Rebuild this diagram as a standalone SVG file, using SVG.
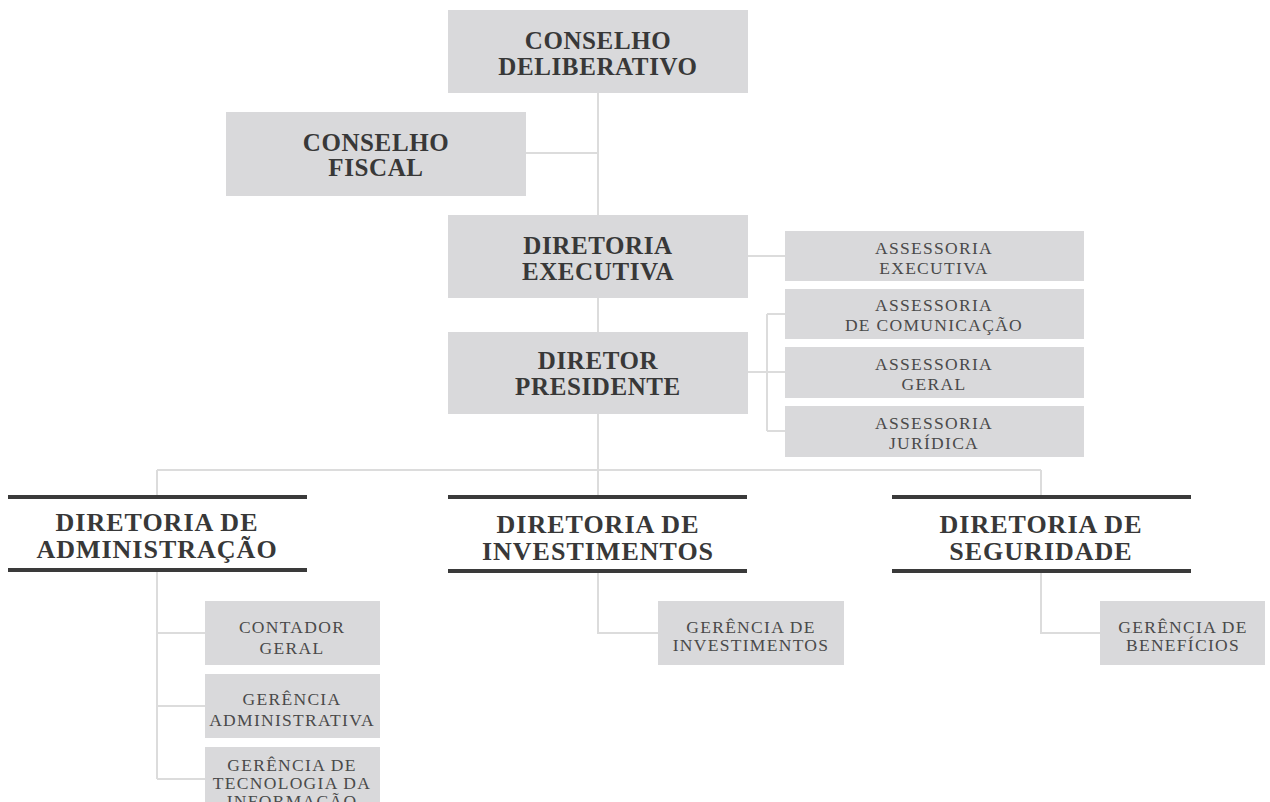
<svg xmlns="http://www.w3.org/2000/svg" width="1270" height="802" viewBox="0 0 1270 802">
<style>
.box{fill:#d9d9db}
.big{font-family:"Liberation Serif",serif;font-weight:bold;font-size:25px;fill:#383838;letter-spacing:0.6px;text-anchor:middle}
.title{font-family:"Liberation Serif",serif;font-weight:bold;font-size:26px;fill:#383838;letter-spacing:1px;text-anchor:middle}
.small{font-family:"Liberation Serif",serif;font-size:17.5px;fill:#4a4a4a;letter-spacing:1.3px;text-anchor:middle}
.conn{stroke:#dcdcdc;stroke-width:2;fill:none}
.bar{stroke:#3a3a3a;stroke-width:4}
</style>
<rect width="1270" height="802" fill="#ffffff"/>
<g id="connectors">
<path class="conn" d="M598,93V215M526,153H598M598,298V332M598,414V470M748,256H785M748,372H785M767,314V431M767,314H785M767,431H785M157,470H1041M157,470V497M598,470V497M1041,470V497M157,571V779M157,633H205M157,706H205M157,779H205M598,571V633H658M1041,571V633H1100"/>
</g>
<g id="conselho-deliberativo"><rect class="box" x="448" y="10" width="300" height="83"/><text class="big" x="598" y="49">CONSELHO</text><text class="big" x="598" y="75">DELIBERATIVO</text></g>
<g id="conselho-fiscal"><rect class="box" x="226" y="112" width="300" height="84"/><text class="big" x="376" y="151">CONSELHO</text><text class="big" x="376" y="176">FISCAL</text></g>
<g id="diretoria-executiva"><rect class="box" x="448" y="215" width="300" height="83"/><text class="big" x="598" y="254">DIRETORIA</text><text class="big" x="598" y="280">EXECUTIVA</text></g>
<g id="diretor-presidente"><rect class="box" x="448" y="332" width="300" height="82"/><text class="big" x="598" y="369">DIRETOR</text><text class="big" x="598" y="395">PRESIDENTE</text></g>
<g id="assessoria-executiva"><rect class="box" x="785" y="231" width="299" height="50"/><text class="small" x="934" y="254">ASSESSORIA</text><text class="small" x="934" y="274">EXECUTIVA</text></g>
<g id="assessoria-comunicacao"><rect class="box" x="785" y="289" width="299" height="50"/><text class="small" x="934" y="311">ASSESSORIA</text><text class="small" x="934" y="331">DE COMUNICAÇÃO</text></g>
<g id="assessoria-geral"><rect class="box" x="785" y="347" width="299" height="51"/><text class="small" x="934" y="370">ASSESSORIA</text><text class="small" x="934" y="390">GERAL</text></g>
<g id="assessoria-juridica"><rect class="box" x="785" y="406" width="299" height="51"/><text class="small" x="934" y="429">ASSESSORIA</text><text class="small" x="934" y="449">JURÍDICA</text></g>
<g id="diretoria-administracao"><line class="bar" x1="8" y1="497" x2="307" y2="497"/><line class="bar" x1="8" y1="570" x2="307" y2="570"/><text class="title" x="157" y="531">DIRETORIA DE</text><text class="title" x="157" y="558">ADMINISTRAÇÃO</text></g>
<g id="diretoria-investimentos"><line class="bar" x1="448" y1="497" x2="747" y2="497"/><line class="bar" x1="448" y1="571" x2="747" y2="571"/><text class="title" x="598" y="533">DIRETORIA DE</text><text class="title" x="598" y="560">INVESTIMENTOS</text></g>
<g id="diretoria-seguridade"><line class="bar" x1="892" y1="497" x2="1191" y2="497"/><line class="bar" x1="892" y1="571" x2="1191" y2="571"/><text class="title" x="1041" y="533">DIRETORIA DE</text><text class="title" x="1041" y="560">SEGURIDADE</text></g>
<g id="contador-geral"><rect class="box" x="205" y="601" width="175" height="64"/><text class="small" x="292" y="633">CONTADOR</text><text class="small" x="292" y="654">GERAL</text></g>
<g id="gerencia-administrativa"><rect class="box" x="205" y="674" width="175" height="64"/><text class="small" x="292" y="705">GERÊNCIA</text><text class="small" x="292" y="726">ADMINISTRATIVA</text></g>
<g id="gerencia-ti"><rect class="box" x="205" y="747" width="175" height="60"/><text class="small" x="292" y="771">GERÊNCIA DE</text><text class="small" x="292" y="789">TECNOLOGIA DA</text><text class="small" x="292" y="807">INFORMAÇÃO</text></g>
<g id="gerencia-investimentos"><rect class="box" x="658" y="601" width="186" height="64"/><text class="small" x="751" y="633">GERÊNCIA DE</text><text class="small" x="751" y="651">INVESTIMENTOS</text></g>
<g id="gerencia-beneficios"><rect class="box" x="1100" y="601" width="165" height="64"/><text class="small" x="1183" y="633">GERÊNCIA DE</text><text class="small" x="1183" y="651">BENEFÍCIOS</text></g>
</svg>
